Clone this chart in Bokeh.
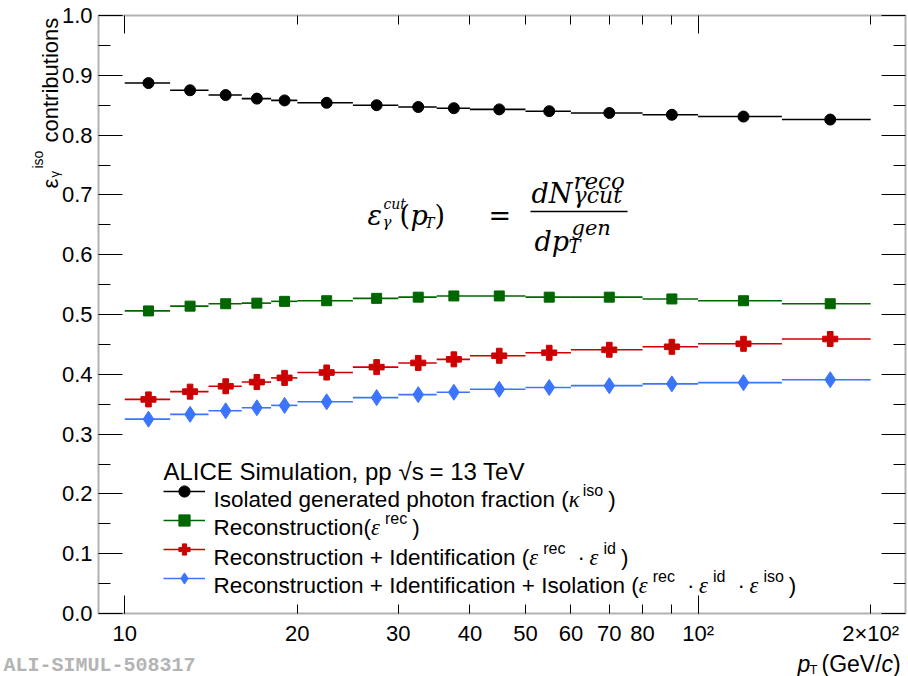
import math
from bokeh.plotting import figure
from bokeh.models import (Range1d, FixedTicker, LinearAxis, LogAxis, Label, Legend,
                          LegendItem, BoxAnnotation, PrintfTickFormatter)
from bokeh.embed import file_html
from bokeh.resources import INLINE

# ---------------- data ----------------
bin_edges = [10, 12, 14, 16, 18, 20, 25, 30, 35, 40, 50, 60, 80, 100, 140, 200]
kappa_iso = [0.887, 0.875, 0.867, 0.861, 0.858, 0.854, 0.850, 0.847, 0.845, 0.843,
             0.840, 0.837, 0.834, 0.831, 0.826]
eps_rec = [0.506, 0.514, 0.518, 0.519, 0.522, 0.523, 0.527, 0.529, 0.531, 0.531,
           0.529, 0.529, 0.526, 0.523, 0.518]
eps_rec_id = [0.358, 0.371, 0.380, 0.387, 0.394, 0.403, 0.412, 0.419, 0.425, 0.431,
              0.436, 0.441, 0.446, 0.451, 0.459]
eps_rec_id_iso = [0.325, 0.333, 0.339, 0.344, 0.348, 0.354, 0.361, 0.366, 0.370, 0.375,
                  0.378, 0.381, 0.384, 0.386, 0.391]

x_ticks = [10, 20, 30, 40, 50, 60, 70, 80, 90, 100, 200]
x_tick_labels = ["10", "20", "30", "40", "50", "60", "70", "80", "", "10\u00b2", "2\u00d710\u00b2"]
x_long_ticks = [10, 100]
x_short_ticks = [20, 30, 40, 50, 60, 70, 80, 90, 200]
y_ticks = [0.0, 0.1, 0.2, 0.3, 0.4, 0.5, 0.6, 0.7, 0.8, 0.9, 1.0]
y_minor_ticks = [0.05, 0.15, 0.25, 0.35, 0.45, 0.55, 0.65, 0.75, 0.85, 0.95]
x_frame = (9, 230)
y_frame = (0.0, 1.0)

# ---------------- layout: the frame fills the canvas, axes are pinned inside ----------------
W, H = 908, 676
FL, FR, FT, FB = 98, 905, 15, 613          # drawn box, in canvas pixels
dec_px = math.log10(x_frame[1] / x_frame[0]) / (FR - FL)
x_start = 10 ** (math.log10(x_frame[0]) - FL * dec_px)
x_end = 10 ** (math.log10(x_frame[1]) + (W - FR) * dec_px)
y_px = (y_frame[1] - y_frame[0]) / (FB - FT)
y_start = y_frame[0] - (H - FB) * y_px
y_end = y_frame[1] + FT * y_px

p = figure(width=W, height=H, x_axis_type="log", x_range=Range1d(x_start, x_end),
           y_range=Range1d(y_start, y_end), x_axis_location=None, y_axis_location=None,
           output_backend="svg", toolbar_location=None, min_border=0)
p.grid.visible = False
p.outline_line_color = None
p.background_fill_color = "white"
p.border_fill_color = "white"

FONT = "Liberation Sans"
common = dict(major_tick_out=0, minor_tick_out=0, axis_line_color=None,
              major_tick_line_color="black", minor_tick_line_color="black")
hidden = dict(major_label_text_font_size="1px", major_label_text_alpha=0,
              major_label_standoff=0)

bottom = LogAxis(fixed_location=y_frame[0], bounds=x_frame,
                 ticker=FixedTicker(ticks=x_ticks, minor_ticks=[]),
                 major_label_overrides={t: l for t, l in zip(x_ticks, x_tick_labels)},
                 major_tick_in=9, minor_tick_in=0, major_label_text_font=FONT,
                 major_label_text_font_size="22px", major_label_text_color="black",
                 major_label_standoff=7, **common)
p.add_layout(bottom, "below")
bottom_long = LogAxis(fixed_location=y_frame[0], bounds=x_frame,
                      ticker=FixedTicker(ticks=x_long_ticks, minor_ticks=[]),
                      major_tick_in=18, minor_tick_in=0, **hidden, **common)
p.add_layout(bottom_long, "below")
top = LogAxis(fixed_location=y_frame[1], bounds=x_frame,
              ticker=FixedTicker(ticks=x_long_ticks, minor_ticks=x_short_ticks),
              major_tick_in=18, minor_tick_in=9, **hidden, **common)
p.add_layout(top, "above")
left = LinearAxis(fixed_location=x_frame[0], bounds=y_frame,
                  ticker=FixedTicker(ticks=y_ticks, minor_ticks=y_minor_ticks),
                  formatter=PrintfTickFormatter(format="%.1f"),
                  major_tick_in=24, minor_tick_in=12, major_label_text_font=FONT,
                  major_label_text_font_size="22px", major_label_text_color="black",
                  major_label_standoff=6, **common)
p.add_layout(left, "left")
right = LinearAxis(fixed_location=x_frame[1], bounds=y_frame,
                   ticker=FixedTicker(ticks=y_ticks, minor_ticks=y_minor_ticks),
                   major_tick_in=24, minor_tick_in=12, **hidden, **common)
p.add_layout(right, "right")

p.add_layout(BoxAnnotation(left=x_frame[0], right=x_frame[1], bottom=y_frame[0],
                           top=y_frame[1], fill_alpha=0, line_color="black",
                           line_width=2))

# ---------------- data renderers ----------------
lo = bin_edges[:-1]
hi = bin_edges[1:]
centers = [(a + b) / 2 for a, b in zip(lo, hi)]

series = [
    (kappa_iso, "#000000", "circle", 11),
    (eps_rec, "#006600", "square", 10),
    (eps_rec_id, "#cc0000", "plus", 15),
    (eps_rec_id_iso, "#3b75ff", "diamond", 16),
]
items = []
for vals, col, mk, sz in series:
    seg = p.segment(x0=lo, x1=hi, y0=vals, y1=vals, line_color=col, line_width=1.6)
    sc = p.scatter(x=centers, y=vals, marker=mk, size=sz, fill_color=col, line_color=col)
    items.append(LegendItem(label="\u00a0", renderers=[seg, sc]))

legend = Legend(items=items, location=(163, 84), glyph_width=42, glyph_height=28,
                label_height=28, label_width=2, spacing=1, padding=0, margin=0,
                label_standoff=0, border_line_color=None, background_fill_alpha=0,
                label_text_font_size="8px")
p.add_layout(legend)

# ---------------- text helpers (canvas pixel coords, y downwards) ----------------
def lab(X, Y, text, size, font=FONT, style="normal", angle=0.0, color="black",
        align="left", baseline="alphabetic"):
    p.add_layout(Label(x=X, y=H - Y, x_units="screen", y_units="screen", text=text,
                       text_font=font, text_font_size=f"{size}px", text_font_style=style,
                       angle=angle, text_align=align, text_baseline=baseline,
                       text_color=color))

HW = {" ": 278, "(": 333, ")": 333, "+": 584, ",": 278, "-": 333, ".": 278, "/": 278,
      "=": 584, "\u00b7": 278, "\u221a": 549,
      "A": 667, "C": 722, "E": 667, "G": 778, "I": 278, "L": 556, "R": 722, "S": 667,
      "T": 611, "V": 667,
      "a": 556, "b": 556, "c": 500, "d": 556, "e": 556, "f": 278, "g": 556, "h": 556,
      "i": 222, "l": 222, "m": 833, "n": 556, "o": 556, "p": 556, "r": 333, "s": 500,
      "t": 278, "u": 556}

def tw(s, size):
    return sum(HW.get(ch, 556) for ch in s) * size / 1000.0

TS, SS = 22.5, 16
G_ADV = 14

def rich(X, Y, pieces):
    x = X
    for kind, text in pieces:
        if kind == "t":
            lab(x, Y, text, TS)
            x += tw(text, TS)
        elif kind == "g":
            lab(x, Y, text, TS, font="Liberation Serif", style="italic")
            x += G_ADV
        elif kind == "sup":
            lab(x, Y - 9, text, SS)
            x += tw(text, SS)
        elif kind == "dot":
            x += 12
            lab(x, Y, "\u00b7", TS)
            x += 12
        elif kind == "sp":
            x += float(text)

EPS, KAP = "\u03b5", "\u03ba"
lab(163, 471, "ALICE Simulation, pp", 24)
lab(398, 471, "\u221as", 24)
lab(429, 471, "= 13 TeV", 24)
rich(213, 499, [("t", "Isolated generated photon fraction ("), ("g", KAP), ("sup", "iso"),
                ("sp", 5), ("t", ")")])
rich(213, 527, [("t", "Reconstruction("), ("g", EPS), ("sup", "rec"), ("sp", 5), ("t", ")")])
rich(213, 557, [("t", "Reconstruction + Identification ("), ("g", EPS), ("sup", "rec"),
                ("dot", ""), ("g", EPS), ("sup", "id"), ("sp", 5), ("t", ")")])
rich(213, 585, [("t", "Reconstruction + Identification + Isolation ("), ("g", EPS),
                ("sup", "rec"), ("dot", ""), ("g", EPS), ("sup", "id"), ("dot", ""),
                ("g", EPS), ("sup", "iso"), ("sp", 5), ("t", ")")])

# ---------------- formula ----------------
MF = "DejaVu Serif"
lab(367, 215, EPS, 27, font=MF, style="italic")
lab(383, 203, "cut", 14, font=MF, style="italic")
lab(382, 221, "\u03b3", 15, font=MF, style="italic")
lab(399, 215, "(", 27, font=MF)
lab(410, 215, "p", 27, font=MF, style="italic")
lab(424, 222, "T", 15, font=MF, style="italic")
lab(434, 215, ")", 27, font=MF)
lab(488, 215, "=", 27, font=MF)
p.add_layout(BoxAnnotation(left=530, right=627, top=H - 210.2, bottom=H - 211.8,
                           left_units="screen", right_units="screen", top_units="screen",
                           bottom_units="screen", fill_color="black", fill_alpha=1,
                           line_color=None))
lab(531, 193, "dN", 27, font=MF, style="italic")
lab(573, 180, "reco", 23, font=MF, style="italic")
lab(573, 195, "\u03b3cut", 22, font=MF, style="italic")
lab(534, 241, "dp", 27, font=MF, style="italic")
lab(571, 227, "gen", 21, font=MF, style="italic")
lab(568, 246, "T", 18, font=MF, style="italic")

# ---------------- y-axis title (rotated) ----------------
R = math.pi / 2
lab(50, 188, EPS, 22, angle=R)
lab(54, 177, "\u03b3", 13, angle=R)
lab(37, 168, "iso", 14, angle=R)
lab(50, 142, "contributions", 22, angle=R)

# ---------------- x-axis title ----------------
lab(797, 663, "p", 23, style="italic")
lab(809, 669, "T", 13)
lab(821, 663, "(GeV/", 23)
lab(821 + tw("(GeV/", 23), 663, "c", 23, style="italic")
lab(821 + tw("(GeV/", 23) + 11.5, 663, ")", 23)

# ---------------- watermark ----------------
lab(3, 676, "ALI-SIMUL-508317", 20, font="Liberation Mono", style="bold",
    color="#b4b4b4", baseline="bottom")

open("out.html", "w").write(file_html(p, INLINE))
